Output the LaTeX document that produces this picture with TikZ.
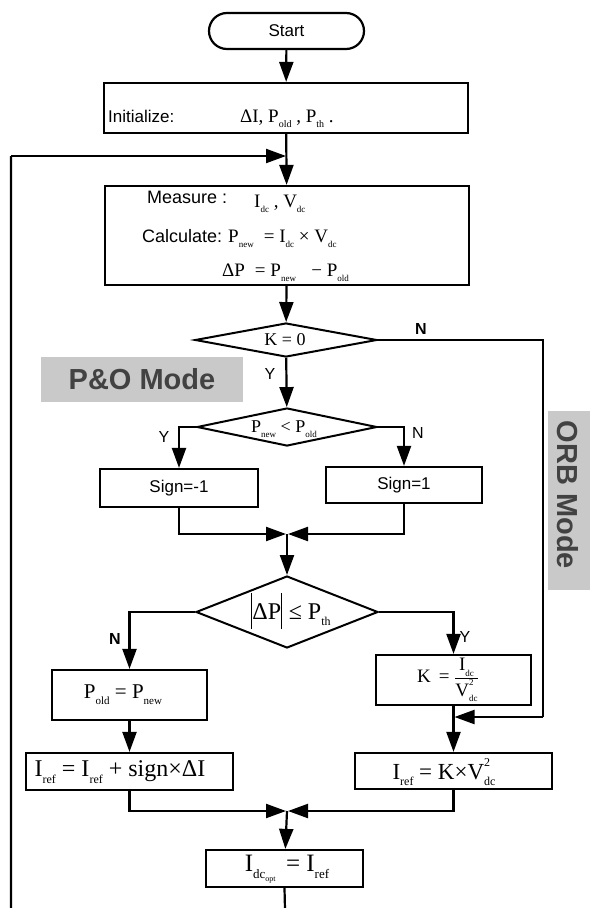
\documentclass[tikz,border=0pt]{standalone}
\usepackage{fontspec}
\setmainfont{Liberation Serif}
\setsansfont{Liberation Sans}
\usetikzlibrary{arrows.meta,shapes.geometric}

% font size shortcut and small lowered / stacked indices
\newcommand\fsz[1]{\fontsize{#1}{#1}\selectfont}
\newcommand\lo[2][9]{\raisebox{-0.28em}{\fsz{#1}#2}}
\newcommand\losup[3][9]{\rlap{\raisebox{0.55em}{\fsz{#1}#3}}\raisebox{-0.28em}{\fsz{#1}#2}}

\definecolor{modefill}{gray}{0.79}
\definecolor{modetext}{gray}{0.26}

\begin{document}
\begin{tikzpicture}[x=1pt,y=-1pt,
  line/.style={line width=2.2pt},
  arr/.style={line width=2.2pt,-{Triangle[length=20pt,width=14pt]}},
  procbox/.style={draw,line width=2.2pt,inner sep=0pt},
  decision/.style={diamond,draw,line width=2pt,inner sep=0pt},
  txt/.style={inner sep=0pt},
  sans/.style={txt,font=\sffamily\fsz{17}},
  serif/.style={txt,font=\fsz{19}},
  yn/.style={txt,font=\sffamily\fsz{16}},
  modebox/.style={fill=modefill,inner sep=0pt,text=modetext,font=\sffamily\bfseries\fsz{29}}]
\useasboundingbox (0,0) rectangle (590,908);

% ---- mode tags
\node[modebox,minimum width=202pt,minimum height=45pt] (pomode) at (142,379.5) {P\&O Mode};
\fill[modefill] (548,411) rectangle (590,590);
\node[txt,rotate=-90,text=modetext,font=\sffamily\bfseries\fsz{29}] (orbmode) at (568,495) {ORB Mode};

% ---- start and initialisation
\node[procbox,rounded corners=18pt,minimum width=155pt,minimum height=36pt,font=\sffamily\fsz{17}] (start) at (286.5,31) {Start};
\node[procbox,minimum width=364pt,minimum height=50pt] (init) at (286,108) {};
\node[sans,anchor=base west] (initlbl) at (108,122) {Initialize:};
\node[serif,anchor=base west] (initvars) at (240,122) {ΔI, P\lo[10]{old} , P\lo[10]{th} .};

% ---- measurement block
\node[procbox,minimum width=364pt,minimum height=99pt] (meas) at (287,235.5) {};
\node[sans,font=\sffamily\fsz{18},anchor=base west] (measlbl) at (147,203) {Measure :};
\node[serif,anchor=base west] (measvars) at (254,207) {I\lo{dc} , V\lo{dc}};
\node[sans,font=\sffamily\fsz{18},anchor=base west] (calclbl) at (142,242) {Calculate:};
\node[serif,anchor=base west] (calcp) at (228,242) {P\lo{new}\; = I\lo{dc} × V\lo{dc}};
\node[serif,anchor=base west] (calcdp) at (222,276) {ΔP\; = P\lo{new}\;\; − P\lo{old}};

% ---- mode decision
\node[decision,minimum width=182pt,minimum height=34pt] (kzero) at (286,340) {};
\node[serif,font=\fsz{18}] (kzerotxt) at (285,340) {K = 0};

% ---- perturb and observe branch
\node[decision,minimum width=180pt,minimum height=38pt] (pcmp) at (287,427) {};
\node[serif,font=\fsz{18},anchor=base] (pcmptxt) at (284,432) {P\lo{new} < P\lo{old}};
\node[procbox,minimum width=158pt,minimum height=38pt,font=\sffamily\fsz{17}] (sgnm) at (179,488) {Sign=-1};
\node[procbox,minimum width=156pt,minimum height=36pt,font=\sffamily\fsz{17}] (sgnp) at (404,485) {Sign=1};
\coordinate (merge1) at (287,534);

\node[decision,minimum width=182pt,minimum height=72pt] (thr) at (287,612) {};
\node[serif,font=\fsz{24},anchor=base] (thrtxt) at (291,619) {\rule[-10pt]{1pt}{36pt}ΔP\rule[-10pt]{1pt}{36pt}\;≤ P\lo[12]{th}};

\node[procbox,minimum width=155pt,minimum height=50pt] (pold) at (129.5,695) {};
\node[serif,font=\fsz{21}] (poldtxt) at (123,695) {P\lo[11]{old} = P\lo[11]{new}};
\node[procbox,minimum width=207pt,minimum height=37pt] (irefl) at (129.5,771.5) {};
\node[serif,font=\fsz{24}] (irefltxt) at (120,772) {I\lo[12]{ref} = I\lo[12]{ref} + sign×ΔI};

% ---- optimal ratio branch
\node[procbox,minimum width=155pt,minimum height=50pt] (kbox) at (453.5,680) {};
\node[serif,font=\fsz{19}] (kboxtxt) at (448,680) {K\, = ${\displaystyle\frac{\hbox{I\lo[9]{dc}}}{\hbox{V\losup[9]{dc}{2}}}}$};
\node[procbox,minimum width=197pt,minimum height=36pt] (irefr) at (453.5,771) {};
\node[serif,font=\fsz{23}] (ireftxt) at (444,772) {I\lo[12]{ref} = K×V\losup[12]{dc}{2}};
\coordinate (merge2) at (287,811);

% ---- output
\node[procbox,minimum width=157pt,minimum height=37pt] (idc) at (284.5,868.5) {};
\node[serif,font=\fsz{25}] (idctxt) at (287,869) {I\lo[13]{dc\lo[8]{opt}}\, = I\lo[13]{ref}};

% ---- connectors: main column
\draw[arr] (start) -- (init);
\draw[arr] (init) -- (meas);
\draw[arr] (meas) -- (kzero);
\draw[arr] (kzero) -- (pcmp);
\node[yn] (ylab1) at (270,374) {Y};

% P&O branches
\draw[arr] (pcmp.west) -| (sgnm.north);
\node[yn] (ylab2) at (164,437) {Y};
\draw[arr] (pcmp.east) -| (sgnp.north);
\node[yn] (nlab2) at (418,433) {N};
\draw[arr] (sgnm.south) |- ([xshift=-1pt]merge1);
\draw[arr] (sgnp.south) |- ([xshift=1pt]merge1);
\draw[arr] (merge1) -- (thr);

\draw[arr] (thr.west) -| (pold.north);
\node[yn,font=\sffamily\bfseries\fsz{16}] (nlab3) at (115,639) {N};
\draw[arr] (thr.east) -| (kbox.north);
\node[yn] (ylab3) at (465,637) {Y};
\draw[arr] (pold) -- (irefl);
\draw[arr] (kbox) -- (irefr);

% ORB bypass from the mode decision
\coordinate (orbtop) at (543,340);
\coordinate (orbbot) at (543,717);
\coordinate (orbin) at (454.5,717);
\draw[line] (kzero.east) -- (orbtop) -- (orbbot);
\draw[arr] (orbbot) -- (orbin);
\node[yn,font=\sffamily\bfseries\fsz{16}] (nlab1) at (421,329) {N};

% merge and output
\draw[arr] (irefl.south) |- ([xshift=-1pt]merge2);
\draw[arr] (irefr.south) |- ([xshift=1pt]merge2);
\draw[arr] (merge2) -- (idc);

% feedback loop, its lowest run lies just past the lower edge
\coordinate (loopbot) at (285,909.6);
\coordinate (loopleft) at (11,909.6);
\coordinate (looptop) at (11,156);
\coordinate (loopin) at (286,156);
\draw[line] (idc.south) -- (loopbot) -- (loopleft) -- (looptop);
\draw[arr] (looptop) -- (loopin);
\end{tikzpicture}
\end{document}
